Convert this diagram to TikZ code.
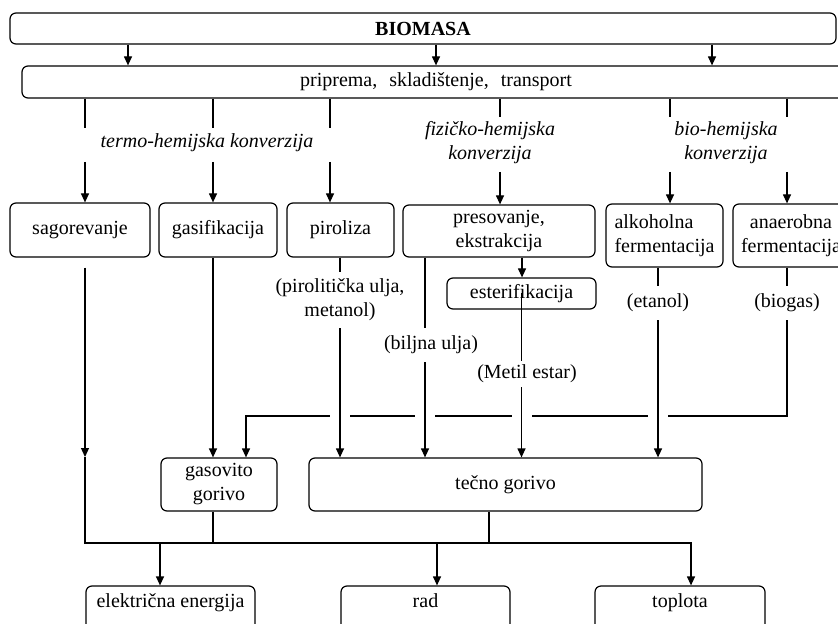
\documentclass[tikz,border=0pt]{standalone}
\usepackage{fontspec}
\setmainfont{Liberation Serif}
\usetikzlibrary{arrows.meta}
\pgfdeclarelayer{background}
\pgfsetlayers{background,main}
\tikzset{
  box/.style={draw, rounded corners=3pt, line width=0.6pt, inner sep=1pt},
  proc/.style={box, minimum height=27pt},
  outbox/.style={box, anchor=base, inner ysep=0pt, text height=10.5pt, text depth=25pt},
  line/.style={line width=0.6pt},
  arr/.style={line width=0.6pt, -{Triangle[length=4.5pt,width=4pt]}},
  bridge/.style={preaction={draw=white, line width=10pt}}
}
\begin{document}
\begin{tikzpicture}[x=0.5pt,y=-0.5pt]
    \useasboundingbox (0,0) rectangle (838,624);
    \clip (0,0) rectangle (838,624);

    \node[box, minimum width=413pt, minimum height=15.5pt, font=\bfseries] (bio) at (423,28.5) {BIOMASA};
    \node[box, minimum width=414pt, minimum height=16pt] (prip) at (436,82) {priprema,\hspace{6pt}skladištenje,\hspace{6pt}transport};

    % vrste konverzije
    \node[font=\itshape] (termo) at (207,143) {termo-hemijska konverzija};
    \node[font=\itshape, align=center] (fiz) at (490,143) {fizičko-hemijska\\konverzija};
    \node[font=\itshape, align=center] (biohem) at (726,143) {bio-hemijska\\konverzija};

    % postupci
    \node[proc, minimum width=70pt] (sag) at (80,230) {sagorevanje};
    \node[proc, minimum width=59pt] (gas) at (218,230) {gasifikacija};
    \node[proc, minimum width=53.5pt] (pir) at (340.5,230) {piroliza};
    \node[proc, minimum width=96pt, minimum height=26pt, align=center] (pres) at (499,231) {presovanje,\\ekstrakcija};
    \node[box, minimum width=74.5pt, minimum height=15.5pt] (est) at (521.5,293.5) {esterifikacija};
    \node[proc, minimum width=58.5pt, minimum height=31.5pt, align=left] (alk) at (664.5,235.5) {alkoholna\\fermentacija};
    \node[proc, minimum width=58pt, minimum height=31.5pt, align=center] (ana) at (791,235.5) {anaerobna\\fermentacija};

    % proizvodi
    \node[align=center] (pirol) at (340,300) {(pirolitička ulja,\\metanol)};
    \node[inner ysep=4pt] (biljna) at (431,345) {(biljna ulja)};
    \node[inner ysep=2pt] (metil) at (527,374) {(Metil estar)};
    \node[inner ysep=4pt] (etanol) at (658,303) {(etanol)};
    \node[inner ysep=4pt] (biogas) at (787,303) {(biogas)};

    \node[box, minimum width=58pt, minimum height=26.5pt, align=center] (gasg) at (219,484.5) {gasovito\\gorivo};
    \node[box, minimum width=196.5pt, minimum height=26.5pt] (tec) at (505.5,484.5) {tečno gorivo};

    \node[outbox, minimum width=84.5pt] (elek) at (170.5,607) {električna energija};
    \node[outbox, minimum width=84.5pt] (rad) at (425.5,607) {rad};
    \node[outbox, minimum width=85pt] (toplota) at (680,607) {toplota};

    \begin{pgfonlayer}{background}
    \foreach \x in {128,436,712}
        \draw[arr] (\x,0 |- bio.south) -- (\x,0 |- prip.north);
    \foreach \x/\a/\b/\nd in {85/128/162/sag, 213/128/162/gas, 330/128/162/pir,
                              500/117/172/pres, 670/117/172/alk, 787/117/172/ana}
        \draw[arr] (\x,0 |- prip.south) -- (\x,\a) (\x,\b) -- (\x,0 |- \nd.north);

    \draw[arr] (522,0 |- pres.south) -- (522,0 |- est.north);
    \draw[line] (pirol |- pir.south) -- (pirol);
    \draw[line] (425,0 |- pres.south) -- (425,0 |- biljna.north);
    \draw[line] (est.center) -- (est.center |- metil.north);
    \draw[line] (etanol |- alk.south) -- (etanol);
    \draw[line] (biogas |- ana.south) -- (biogas);

    % biogas ide u gasovito gorivo
    \draw[arr] (biogas) -- (787,416) -- (246,416) -- (246,0 |- gasg.north);
    \draw[arr] (213,0 |- gas.south) -- (213,0 |- gasg.north);

    \draw[arr, bridge] (pirol) -- (pirol |- tec.north);
    \draw[arr, bridge] (425,0 |- biljna.south) -- (425,0 |- tec.north);
    \draw[arr, bridge] (est.center |- metil.south) -- (est.center |- tec.north);
    \draw[arr, bridge] (etanol) -- (etanol |- tec.north);

    % prema energiji
    \draw[arr, shorten <=5pt] (85,0 |- sag.south) -- (85,457);
    \draw[arr] (85,457) -- (85,543) -| (691,0 |- toplota.north);
    \draw[line] (213,0 |- gasg.south) -- (213,543);
    \draw[line] (489,0 |- tec.south) -- (489,543);
    \draw[arr] (160,543) -- (160,0 |- elek.north);
    \draw[arr] (437,543) -- (437,0 |- rad.north);
    \end{pgfonlayer}
\end{tikzpicture}
\end{document}
